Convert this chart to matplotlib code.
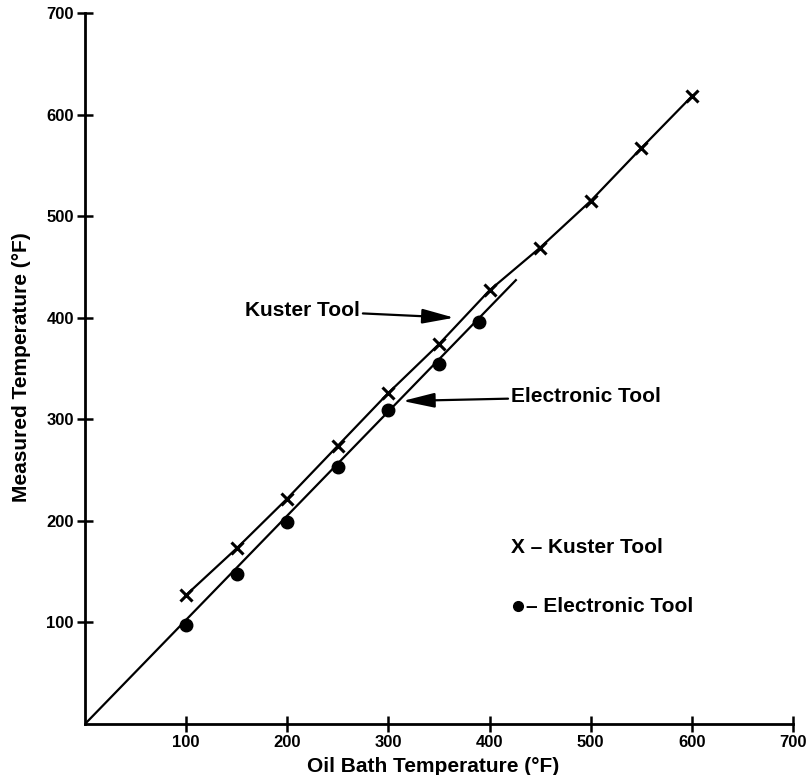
import matplotlib
matplotlib.use("Agg")
import matplotlib.pyplot as plt

plt.rcParams['font.family'] = ['Liberation Sans', 'DejaVu Sans']

# Data
kuster_x = [100, 150, 200, 250, 300, 350, 400, 450, 500, 550, 600]
kuster_y = [127, 173, 222, 274, 326, 374, 427, 469, 515, 567, 618]
electronic_x = [100, 150, 200, 250, 300, 350, 390]
electronic_y = [97, 148, 199, 253, 309, 354, 396]
electronic_fit_x = [0, 426]
electronic_fit_y = [0, 437]
ticks = [100, 200, 300, 400, 500, 600, 700]

fig = plt.figure(figsize=(8.09, 7.75), dpi=100)
ax = fig.add_axes([85/809, 51/775, 708/809, 711/775])

ax.plot(kuster_x, kuster_y, color='black', lw=1.6, marker='x', ms=9, mew=2.2)
ax.plot(electronic_fit_x, electronic_fit_y, color='black', lw=1.6)
ax.plot(electronic_x, electronic_y, color='black', lw=0, marker='o', ms=9)

ax.set_xlim(0, 700)
ax.set_ylim(0, 700)
ax.set_xticks(ticks)
ax.set_yticks(ticks)
for s in ['top', 'right']:
    ax.spines[s].set_visible(False)
for s in ['left', 'bottom']:
    ax.spines[s].set_linewidth(2.0)
ax.tick_params(direction='inout', length=12, width=1.8, pad=2,
               labelsize=12)
for lab in ax.get_xticklabels() + ax.get_yticklabels():
    lab.set_fontweight('bold')

fig.text(433/809, 1 - 767/775, 'Oil Bath Temperature (°F)', ha='center', va='center',
         fontsize=15, fontweight='bold')
fig.text(22/809, 1 - 367/775, 'Measured Temperature (°F)', ha='center', va='center',
         rotation=90, fontsize=15, fontweight='bold')

arrow = dict(arrowstyle='-|>,head_length=1.3,head_width=0.3', color='black', lw=1.6,
             shrinkA=0, shrinkB=0)
ax.annotate('Kuster Tool', xy=(365, 400), xytext=(272, 407), ha='right', va='center',
            fontsize=15, fontweight='bold', arrowprops=arrow)
ax.annotate('Electronic Tool', xy=(314, 318), xytext=(421, 322), ha='left', va='center',
            fontsize=15, fontweight='bold', arrowprops=arrow)

ax.text(421, 174, 'X – Kuster Tool', ha='left', va='center', fontsize=15, fontweight='bold')
ax.plot([428], [116], marker='o', color='black', ms=7, clip_on=False)
ax.text(436, 116, '– Electronic Tool', ha='left', va='center', fontsize=15, fontweight='bold')

fig.savefig('out.png', dpi=100)
